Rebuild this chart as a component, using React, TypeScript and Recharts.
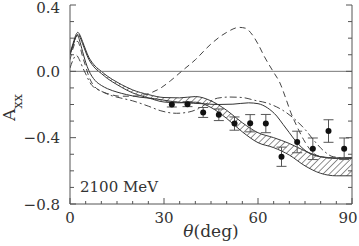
import React from "react";
import {
  ComposedChart,
  Line,
  Area,
  Scatter,
  ErrorBar,
  XAxis,
  YAxis,
  ReferenceLine,
} from "recharts";

const FONT = "DejaVu Serif";
const AX = "#555";
const INK = "#333";

// hatched band (theta, upper, lower)
const bandT = [0, 1, 2, 2.5, 3, 4, 5, 6, 7, 8, 10, 12, 15, 18, 20, 25, 30, 35, 40, 45, 50, 55, 60, 65, 70, 75, 80, 85, 90];
const bandHi = [0.11, 0.17, 0.225, 0.235, 0.225, 0.18, 0.13, 0.085, 0.055, 0.032, 0.0, -0.03, -0.065, -0.095, -0.112, -0.14, -0.158, -0.16, -0.152, -0.178, -0.235, -0.31, -0.37, -0.4, -0.435, -0.48, -0.515, -0.525, -0.525];
const bandLo = [0.1, 0.158, 0.213, 0.222, 0.212, 0.167, 0.117, 0.072, 0.042, 0.019, -0.013, -0.044, -0.08, -0.112, -0.13, -0.16, -0.185, -0.19, -0.186, -0.218, -0.284, -0.365, -0.43, -0.46, -0.505, -0.57, -0.615, -0.63, -0.63];

// solid curve
const solidT = [0, 1, 2, 2.5, 3, 4, 5, 6, 7, 8, 10, 12, 15, 18, 22, 27, 32, 37, 42, 47, 52, 57, 60, 63, 66, 68, 70, 72, 74, 76, 80, 85, 90];
const solidA = [0.1, 0.16, 0.21, 0.215, 0.19, 0.12, 0.055, 0.005, -0.03, -0.055, -0.085, -0.105, -0.125, -0.14, -0.155, -0.165, -0.18, -0.19, -0.195, -0.2, -0.198, -0.19, -0.195, -0.22, -0.27, -0.32, -0.37, -0.42, -0.46, -0.49, -0.515, -0.522, -0.52];

// dashed curve
const dashT = [0, 1, 2, 2.5, 3, 4, 5, 6, 7, 8, 10, 13, 16, 20, 23, 26, 29, 32, 35.6, 40, 45, 50, 54, 56, 58, 60, 62, 64.8, 67, 69, 70.5, 72.5, 74.5, 77.5, 80, 85, 90];
const dashA = [0.07, 0.14, 0.18, 0.18, 0.16, 0.09, 0.03, -0.03, -0.07, -0.095, -0.12, -0.14, -0.15, -0.15, -0.145, -0.128, -0.1, -0.058, 0.0, 0.07, 0.165, 0.235, 0.265, 0.26, 0.225, 0.165, 0.09, 0.0, -0.07, -0.17, -0.25, -0.335, -0.41, -0.49, -0.515, -0.525, -0.525];

// dash-dot curve
const dotT = [0, 1, 2, 3, 4, 5, 6, 7, 8, 10, 13, 16, 20, 25, 29, 34, 38, 41, 44, 47, 51, 55, 59, 63, 68, 71.5, 75, 78, 81, 84, 90];
const dotA = [0.02, 0.07, 0.097, 0.07, 0.025, -0.015, -0.055, -0.085, -0.1, -0.12, -0.145, -0.16, -0.178, -0.21, -0.238, -0.253, -0.245, -0.225, -0.19, -0.162, -0.155, -0.158, -0.175, -0.192, -0.236, -0.285, -0.35, -0.42, -0.48, -0.515, -0.525];

// measured points
const ptT = [32.5, 37.5, 42.5, 47.5, 52.5, 57.5, 62.5, 67.5, 72.5, 77.5, 82.5, 87.5];
const ptA = [-0.2, -0.198, -0.248, -0.262, -0.315, -0.313, -0.315, -0.515, -0.426, -0.467, -0.36, -0.467];
const ptErr = [0.015, 0.015, 0.03, 0.035, 0.04, 0.052, 0.055, 0.058, 0.065, 0.065, 0.068, 0.065];

const xTicks = [0, 5, 10, 15, 20, 25, 30, 35, 40, 45, 50, 55, 60, 65, 70, 75, 80, 85, 90];
const yTicks = [-0.8, -0.7, -0.6, -0.5, -0.4, -0.3, -0.2, -0.1, 0, 0.1, 0.2, 0.3, 0.4];

const band = bandT.map((t, i) => ({ t, lo: bandLo[i], hi: bandHi[i] }));
const solid = solidT.map((t, i) => ({ t, a: solidA[i] }));
const dashed = dashT.map((t, i) => ({ t, a: dashA[i] }));
const dashDot = dotT.map((t, i) => ({ t, a: dotA[i] }));
const points = ptT.map((t, i) => ({ t, a: ptA[i], err: ptErr[i] }));

const isMajorX = (v: number) => v % 30 === 0;
const isMajorY = (v: number) => Math.round(v * 10) % 4 === 0;
const fmtY = (v: number) => v.toFixed(1).replace("-", "\u2212");

const BottomTick = ({ x, y, payload }: any) => {
  const major = isMajorX(payload.value);
  // last label sits a bit left so it stays inside the picture
  const lx = Math.min(x, 348);
  return (
    <g>
      <line x1={x} x2={x} y1={y} y2={y - (major ? 6 : 3)} stroke={AX} />
      {major && (
        <text x={lx} y={y + 19} textAnchor="middle" fontFamily={FONT} fontSize={15} fill={INK}>
          {payload.value}
        </text>
      )}
    </g>
  );
};

const TopTick = ({ x, y, payload }: any) => (
  <line x1={x} x2={x} y1={y} y2={y + (isMajorX(payload.value) ? 6 : 3)} stroke={AX} />
);

const LeftTick = ({ x, y, payload }: any) => {
  const major = isMajorY(payload.value);
  // keep the top label inside the picture
  const ly = Math.max(y + 5.5, 13);
  return (
    <g>
      <line x1={x} x2={x + (major ? 6 : 4)} y1={y} y2={y} stroke={AX} />
      {major && (
        <text x={x - 10} y={ly} textAnchor="end" fontFamily={FONT} fontSize={15} fill={INK}>
          {fmtY(payload.value)}
        </text>
      )}
    </g>
  );
};

const RightTick = ({ x, y, payload }: any) => (
  <line x1={x} x2={x - (isMajorY(payload.value) ? 6 : 4)} y1={y} y2={y} stroke={AX} />
);

const XTitle = () => (
  <g>
    <text x={211} y={237} textAnchor="middle" fontFamily={FONT} fontSize={17} fill={INK}>
      <tspan fontStyle="italic">θ</tspan>(deg)
    </text>
    <text x={80} y={192} fontFamily={FONT} fontSize={15} fill={INK}>
      2100 MeV
    </text>
  </g>
);

const YTitle = () => (
  <text transform="translate(15,121) rotate(-90)" fontFamily={FONT} fontSize={17} fill={INK}>
    A<tspan dy={7} fontSize={13}>xx</tspan>
  </text>
);

const Dot = ({ cx, cy }: any) => <circle cx={cx} cy={cy} r={3} fill="#111" />;

export default function App() {
  return (
    <div style={{ position: "absolute", left: 0, top: 0 }}>
      <ComposedChart width={359} height={246} margin={{ top: 5, right: 0, bottom: 0, left: 0 }}>
        <defs>
          <pattern id="hatch" width="4.5" height="4.5" patternUnits="userSpaceOnUse" patternTransform="rotate(45)">
            <line x1="0" y1="0" x2="0" y2="4.5" stroke="#222" strokeWidth="1" />
          </pattern>
        </defs>
        <XAxis
          dataKey="t"
          type="number"
          domain={[0, 90]}
          ticks={xTicks}
          interval={0}
          allowDataOverflow
          height={42}
          stroke={AX}
          tickLine={false}
          tickSize={0}
          tickMargin={0}
          tick={(p: any) => <BottomTick {...p} />}
          label={{ content: () => <XTitle /> }}
        />
        <XAxis
          xAxisId="top"
          orientation="top"
          dataKey="t"
          type="number"
          domain={[0, 90]}
          ticks={xTicks}
          interval={0}
          allowDataOverflow
          height={0}
          stroke={AX}
          tickLine={false}
          tickSize={0}
          tickMargin={0}
          tick={(p: any) => <TopTick {...p} />}
        />
        <YAxis
          dataKey="a"
          type="number"
          domain={[-0.8, 0.4]}
          ticks={yTicks}
          interval={0}
          allowDataOverflow
          width={70}
          stroke={AX}
          tickLine={false}
          tickSize={0}
          tickMargin={0}
          tick={(p: any) => <LeftTick {...p} />}
          label={{ content: () => <YTitle /> }}
        />
        <YAxis
          yAxisId="right"
          orientation="right"
          type="number"
          domain={[-0.8, 0.4]}
          ticks={yTicks}
          interval={0}
          allowDataOverflow
          width={7}
          stroke={AX}
          tickLine={false}
          tickSize={0}
          tickMargin={0}
          tick={(p: any) => <RightTick {...p} />}
        />
        <ReferenceLine y={0} stroke="#777" strokeWidth={1} />
        <Area
          data={band}
          dataKey={(d: any) => [d.lo, d.hi]}
          type="monotone"
          stroke="#222"
          strokeWidth={0.9}
          fill="url(#hatch)"
          fillOpacity={1}
          isAnimationActive={false}
        />
        <Line data={solid} dataKey="a" type="monotone" dot={false} stroke="#333" strokeWidth={1} isAnimationActive={false} />
        <Line data={dashed} dataKey="a" type="monotone" dot={false} stroke="#444" strokeWidth={1} strokeDasharray="6 4" isAnimationActive={false} />
        <Line data={dashDot} dataKey="a" type="monotone" dot={false} stroke="#444" strokeWidth={1} strokeDasharray="7 3 2 3" isAnimationActive={false} />
        <Scatter data={points} dataKey="a" shape={<Dot />} isAnimationActive={false}>
          <ErrorBar dataKey="err" direction="y" width={5} stroke="#555" strokeWidth={1} />
        </Scatter>
      </ComposedChart>
    </div>
  );
}
